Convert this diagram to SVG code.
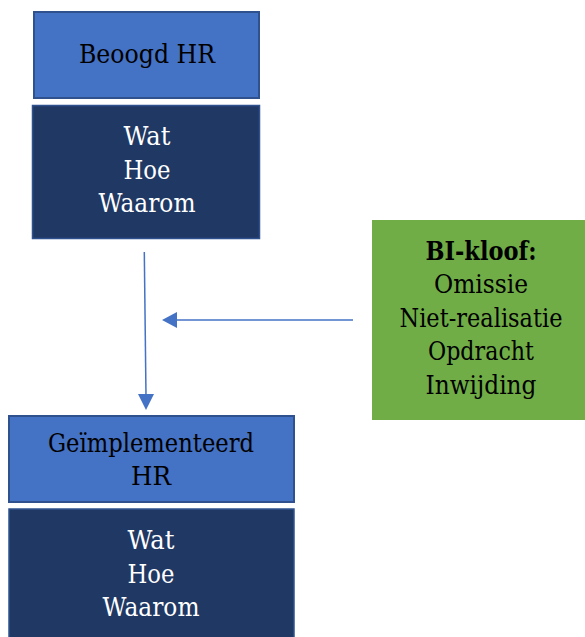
<svg xmlns="http://www.w3.org/2000/svg" width="585" height="637" viewBox="0 0 585 637">
  <style>
    .t { font-family: 'DejaVu Serif', serif; font-size: 25.5px; text-anchor: middle; }
    .dark { fill: #000000; }
    .light { fill: #ffffff; }
    .head { fill: #4472C4; stroke: #2F528F; stroke-width: 2; }
    .body { fill: #203864; stroke: #2F528F; stroke-width: 1.5; }
    .gap { fill: #70AD47; }
    .conn { stroke: #4472C4; stroke-width: 1.5; fill: none; }
    .head-arrow { fill: #4472C4; }
  </style>

  <!-- intended HR -->
  <g id="beoogd-hr">
    <rect class="head" x="34" y="12" width="225" height="86"/>
    <text class="t dark" x="147" y="63" textLength="136" lengthAdjust="spacingAndGlyphs">Beoogd HR</text>
  </g>
  <g id="beoogd-details">
    <rect class="body" x="32.5" y="105.5" width="227" height="133"/>
    <text class="t light" x="147" y="145" textLength="47" lengthAdjust="spacingAndGlyphs">Wat</text>
    <text class="t light" x="147" y="179" textLength="47" lengthAdjust="spacingAndGlyphs">Hoe</text>
    <text class="t light" x="147" y="212" textLength="97" lengthAdjust="spacingAndGlyphs">Waarom</text>
  </g>

  <!-- connectors -->
  <g id="connectors">
    <line class="conn" x1="144.3" y1="252" x2="146" y2="396"/>
    <path class="head-arrow" d="M138,394 L154,394 L146,410 Z"/>
    <line class="conn" x1="353" y1="320" x2="176" y2="320"/>
    <path class="head-arrow" d="M177,312 L177,328 L162,320 Z"/>
  </g>

  <!-- BI gap -->
  <g id="bi-kloof">
    <rect class="gap" x="372" y="220" width="213" height="200"/>
    <text class="t dark" x="481" y="260" font-weight="bold" textLength="111" lengthAdjust="spacingAndGlyphs">BI-kloof:</text>
    <text class="t dark" x="481" y="293" textLength="94" lengthAdjust="spacingAndGlyphs">Omissie</text>
    <text class="t dark" x="481" y="327" textLength="163" lengthAdjust="spacingAndGlyphs">Niet-realisatie</text>
    <text class="t dark" x="481" y="360" textLength="106" lengthAdjust="spacingAndGlyphs">Opdracht</text>
    <text class="t dark" x="481" y="394" textLength="111" lengthAdjust="spacingAndGlyphs">Inwijding</text>
  </g>

  <!-- implemented HR -->
  <g id="geimplementeerd-hr">
    <rect class="head" x="9" y="416" width="285" height="86"/>
    <text class="t dark" x="151" y="452" textLength="206" lengthAdjust="spacingAndGlyphs">Geïmplementeerd</text>
    <text class="t dark" x="151" y="485" textLength="40" lengthAdjust="spacingAndGlyphs">HR</text>
  </g>
  <g id="geimplementeerd-details">
    <rect class="body" x="9" y="509" width="285" height="135"/>
    <text class="t light" x="151" y="549" textLength="47" lengthAdjust="spacingAndGlyphs">Wat</text>
    <text class="t light" x="151" y="583" textLength="47" lengthAdjust="spacingAndGlyphs">Hoe</text>
    <text class="t light" x="151" y="616" textLength="97" lengthAdjust="spacingAndGlyphs">Waarom</text>
  </g>
</svg>
